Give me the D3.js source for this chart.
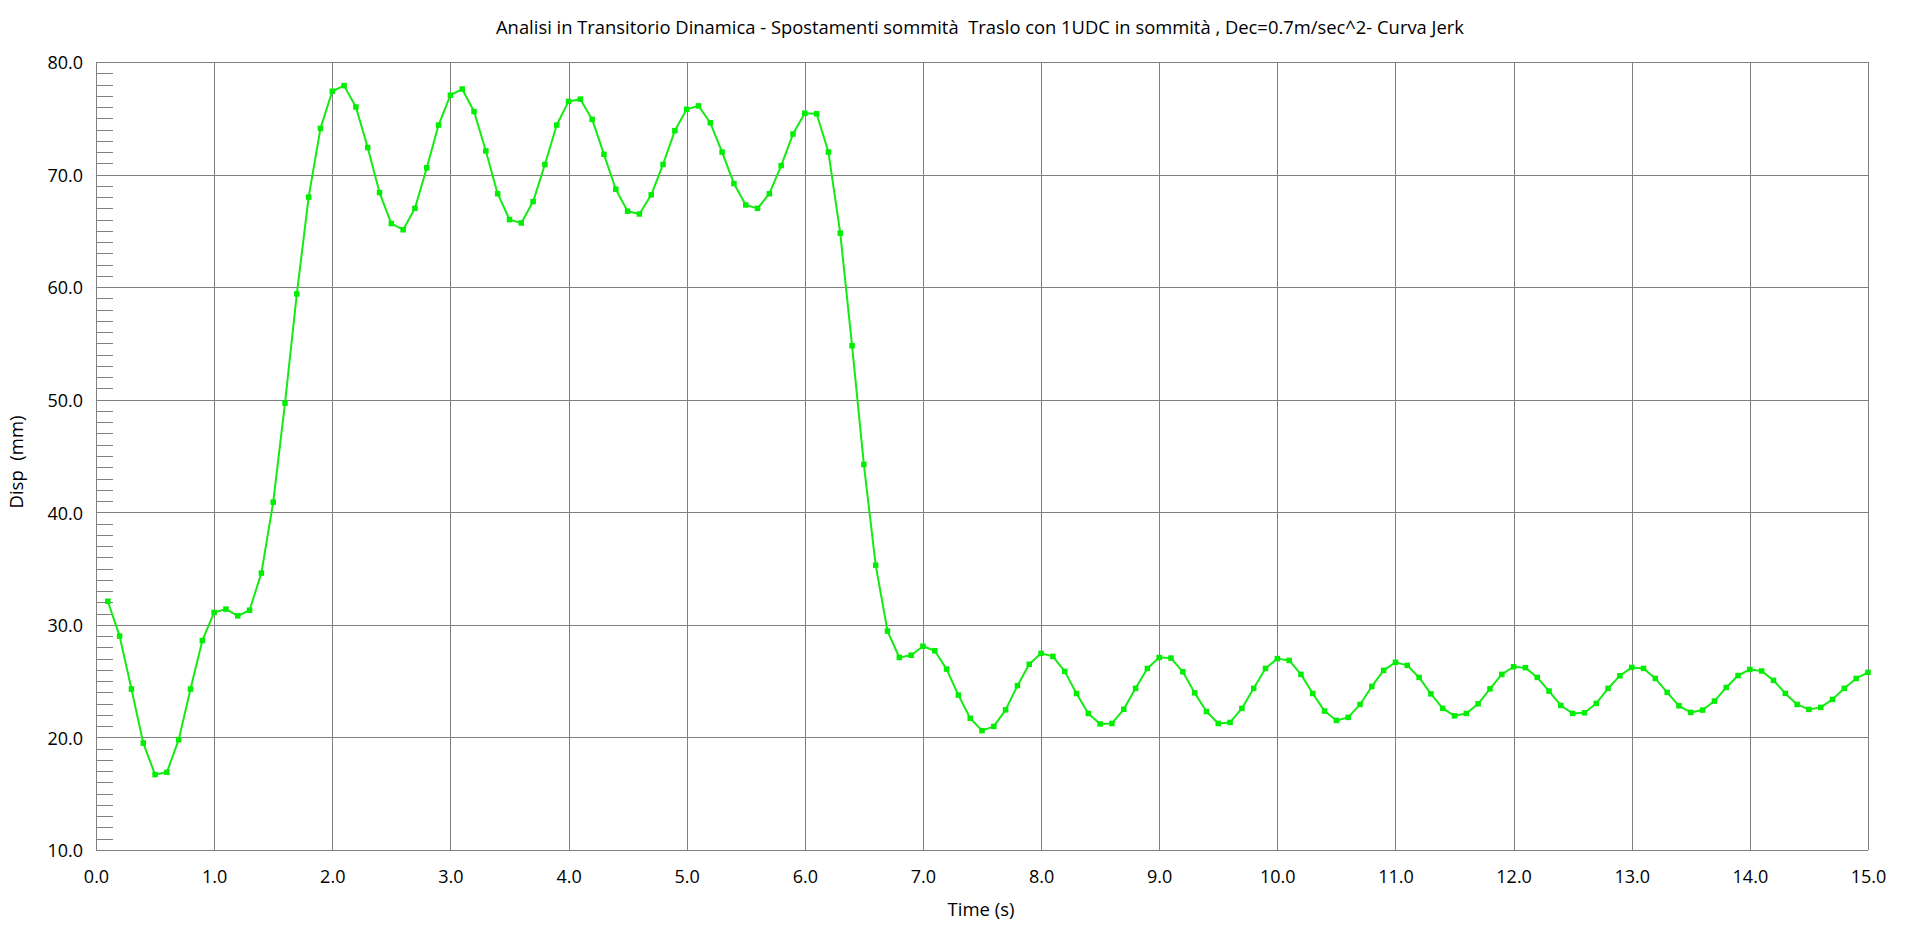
<!DOCTYPE html>
<html>
<head>
<meta charset="utf-8">
<script src="https://cdn.jsdelivr.net/npm/d3@7"></script>
<style>
html,body{margin:0;padding:0;background:#fff;}
svg{display:block;}
text{font-family:"Open Sans","Noto Sans",sans-serif;fill:#000;white-space:pre;}
</style>
</head>
<body>
<svg id="chart" width="1907" height="943"></svg>
<script>
const titleText = "Analisi in Transitorio Dinamica - Spostamenti sommità  Traslo con 1UDC in sommità , Dec=0.7m/sec^2- Curva Jerk";
const xLabel = "Time (s)";
const yLabel = "Disp  (mm)";

const xTicks = [0,1,2,3,4,5,6,7,8,9,10,11,12,13,14,15];
const yTicks = [10,20,30,40,50,60,70,80];
const yMinor = [11,12,13,14,15,16,17,18,19,21,22,23,24,25,26,27,28,29,31,32,33,34,35,36,37,38,39,41,42,43,44,45,46,47,48,49,51,52,53,54,55,56,57,58,59,61,62,63,64,65,66,67,68,69,71,72,73,74,75,76,77,78,79];

const time = [0.1,0.2,0.3,0.4,0.5,0.6,0.7,0.8,0.9,1.0,
1.1,1.2,1.3,1.4,1.5,1.6,1.7,1.8,1.9,2.0,
2.1,2.2,2.3,2.4,2.5,2.6,2.7,2.8,2.9,3.0,
3.1,3.2,3.3,3.4,3.5,3.6,3.7,3.8,3.9,4.0,
4.1,4.2,4.3,4.4,4.5,4.6,4.7,4.8,4.9,5.0,
5.1,5.2,5.3,5.4,5.5,5.6,5.7,5.8,5.9,6.0,
6.1,6.2,6.3,6.4,6.5,6.6,6.7,6.8,6.9,7.0,
7.1,7.2,7.3,7.4,7.5,7.6,7.7,7.8,7.9,8.0,
8.1,8.2,8.3,8.4,8.5,8.6,8.7,8.8,8.9,9.0,
9.1,9.2,9.3,9.4,9.5,9.6,9.7,9.8,9.9,10.0,
10.1,10.2,10.3,10.4,10.5,10.6,10.7,10.8,10.9,11.0,
11.1,11.2,11.3,11.4,11.5,11.6,11.7,11.8,11.9,12.0,
12.1,12.2,12.3,12.4,12.5,12.6,12.7,12.8,12.9,13.0,
13.1,13.2,13.3,13.4,13.5,13.6,13.7,13.8,13.9,14.0,
14.1,14.2,14.3,14.4,14.5,14.6,14.7,14.8,14.9,15.0];

const disp = [32.1,29.0,24.3,19.5,16.7,16.9,19.8,24.3,28.6,31.1,
31.4,30.8,31.3,34.6,40.9,49.7,59.4,68.0,74.1,77.4,
77.9,76.0,72.4,68.4,65.65,65.1,67.0,70.6,74.4,77.05,
77.6,75.6,72.1,68.3,66.0,65.7,67.6,70.9,74.4,76.5,
76.7,74.9,71.8,68.7,66.75,66.5,68.2,70.9,73.9,75.8,
76.1,74.6,72.0,69.2,67.3,67.0,68.3,70.8,73.6,75.45,
75.4,72.0,64.8,54.8,44.25,35.3,29.45,27.1,27.3,28.1,
27.7,26.07,23.76,21.7,20.6,20.98,22.45,24.6,26.5,27.47,
27.2,25.87,23.9,22.13,21.2,21.24,22.5,24.36,26.13,27.1,
27.05,25.83,23.96,22.3,21.24,21.33,22.58,24.36,26.13,27.0,
26.84,25.6,23.9,22.34,21.51,21.78,22.93,24.53,25.96,26.67,
26.4,25.33,23.87,22.58,21.92,22.13,22.99,24.32,25.6,26.28,
26.2,25.33,24.12,22.84,22.13,22.19,23.02,24.36,25.48,26.22,
26.13,25.24,24.0,22.81,22.22,22.43,23.23,24.44,25.5,26.04,
25.9,25.07,23.91,22.93,22.49,22.67,23.38,24.36,25.24,25.78];

const points = time.map((t,i)=>({t:t, v:disp[i]}));

const svg = d3.select("#chart");
const pLeft = 96, pRight = 1868, pTop = 62, pBottom = 850;
const x = d3.scaleLinear().domain([0,15]).range([pLeft,pRight]);
const y = d3.scaleLinear().domain([10,80]).range([pBottom,pTop]);
const grid = "#808080";

// vertical grid lines
svg.append("g").selectAll("line").data(xTicks).join("line")
  .attr("x1",d=>Math.round(x(d))+0.5).attr("x2",d=>Math.round(x(d))+0.5)
  .attr("y1",pTop).attr("y2",pBottom)
  .attr("stroke",grid).attr("stroke-width",1);
// horizontal grid lines
svg.append("g").selectAll("line").data(yTicks).join("line")
  .attr("y1",d=>Math.round(y(d))+0.5).attr("y2",d=>Math.round(y(d))+0.5)
  .attr("x1",pLeft).attr("x2",pRight)
  .attr("stroke",grid).attr("stroke-width",1);
// minor ticks
svg.append("g").selectAll("line").data(yMinor).join("line")
  .attr("y1",d=>Math.round(y(d))+0.5).attr("y2",d=>Math.round(y(d))+0.5)
  .attr("x1",pLeft).attr("x2",pLeft+17)
  .attr("stroke",grid).attr("stroke-width",1);

// axes labels via d3 axes
const yAxis = d3.axisLeft(y).tickValues(yTicks).tickFormat(d3.format(".1f")).tickSize(0).tickPadding(13);
const gy = svg.append("g").attr("transform",`translate(${pLeft},0)`).call(yAxis);
gy.select(".domain").remove();
gy.selectAll("text").style("font-family","'Open Sans',sans-serif").style("font-size","18px").attr("fill","#000").attr("dy","0.38em");

const xAxis = d3.axisBottom(x).tickValues(xTicks).tickFormat(d3.format(".1f")).tickSize(0).tickPadding(20);
const gx = svg.append("g").attr("transform",`translate(0,${pBottom})`).call(xAxis);
gx.select(".domain").remove();
gx.selectAll("text").style("font-family","'Open Sans',sans-serif").style("font-size","18px").attr("fill","#000");

// series line
const line = d3.line().x(d=>x(d.t)).y(d=>y(d.v));
svg.append("path").datum(points)
  .attr("d",line).attr("fill","none")
  .attr("stroke","#14ea14").attr("stroke-width",2).attr("stroke-linejoin","round");
svg.append("g").selectAll("rect").data(points).join("rect")
  .attr("x",d=>x(d.t)-2.75).attr("y",d=>y(d.v)-2.75)
  .attr("width",5.5).attr("height",5.5).attr("fill","#00ee00");

// title
const tt = svg.append("text").attr("x",980).attr("y",34).attr("text-anchor","middle")
  .style("font-size","18.5px").text(titleText);
const tw = tt.node().getComputedTextLength();
if (tw > 968) tt.attr("textLength",968).attr("lengthAdjust","spacingAndGlyphs");

svg.append("text").attr("x",981).attr("y",916).attr("text-anchor","middle")
  .style("font-size","18.5px").text(xLabel);
svg.append("text").attr("transform","translate(23,462) rotate(-90)").attr("text-anchor","middle")
  .style("font-size","18.5px").text(yLabel);
</script>
</body>
</html>
